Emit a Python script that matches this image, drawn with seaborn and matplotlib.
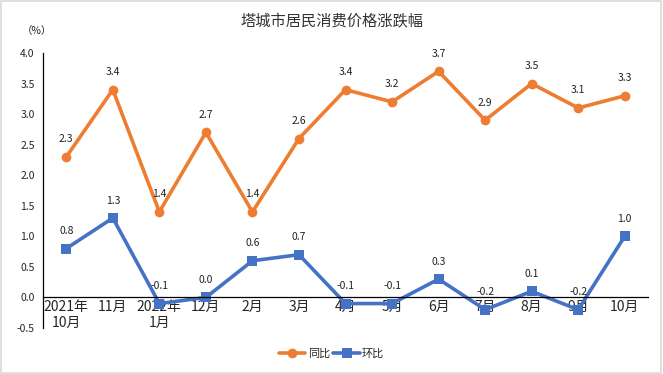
import numpy as np
import pandas as pd
import matplotlib
matplotlib.use('Agg')
import matplotlib.pyplot as plt
import seaborn as sns

# Data
months = ['2021年\n10月', '11月', '2022年\n1月', '12月', '2月', '3月', '4月',
          '5月', '6月', '7月', '8月', '9月', '10月']
yoy = [2.3, 3.4, 1.4, 2.7, 1.4, 2.6, 3.4, 3.2, 3.7, 2.9, 3.5, 3.1, 3.3]
mom = [0.8, 1.3, -0.1, 0.0, 0.6, 0.7, -0.1, -0.1, 0.3, -0.2, 0.1, -0.2, 1.0]
y_ticks = [-0.5, 0.0, 0.5, 1.0, 1.5, 2.0, 2.5, 3.0, 3.5, 4.0]

sns.set_style('white')
plt.rcParams['font.family'] = ['Noto Sans CJK SC', 'DejaVu Sans']
plt.rcParams['axes.unicode_minus'] = False

df = pd.DataFrame({'idx': np.arange(len(months)), '同比': yoy, '环比': mom})
long = df.melt(id_vars='idx', var_name='series', value_name='value')

fig = plt.figure(figsize=(6.63, 3.74), dpi=100)
ax = fig.add_axes([43 / 663, 46 / 374, 605 / 663, 275 / 374])

palette = {'同比': '#ED7D31', '环比': '#4472C4'}
sns.lineplot(data=long, x='idx', y='value', hue='series', style='series',
             markers={'同比': 'o', '环比': 's'}, dashes=False, palette=palette,
             linewidth=2.6, markersize=7, markeredgewidth=0, ax=ax, legend=True)

for i in range(len(months)):
    ax.annotate(f'{yoy[i]:.1f}', (i, yoy[i]), xytext=(0, 9), textcoords='offset points',
                ha='center', va='bottom', fontsize=7.5, color='#222222')
    ax.annotate(f'{mom[i]:.1f}', (i, mom[i]), xytext=(0, 9), textcoords='offset points',
                ha='center', va='bottom', fontsize=7.5, color='#222222')

ax.set_xlim(-0.5, len(months) - 0.5)
ax.set_ylim(-0.5, 4.0)
ax.set_yticks(y_ticks)
ax.set_yticklabels([f'{v:.1f}' for v in y_ticks], fontsize=7.5)
ax.set_xticks(range(len(months)))
ax.set_xticklabels(months, fontsize=7, linespacing=1.35)
ax.set_xticks(np.arange(-0.5, len(months)), minor=True)
ax.tick_params(axis='x', which='major', length=0, pad=2)
ax.tick_params(axis='x', which='minor', direction='in', length=4, width=0.8, color='black')
ax.tick_params(axis='y', direction='out', length=4, width=0.8, color='black', pad=2)
ax.set_xlabel('')
ax.set_ylabel('')

for s in ['top', 'right']:
    ax.spines[s].set_visible(False)
ax.spines['bottom'].set_position(('data', 0))
ax.spines['left'].set_color('black')
ax.spines['bottom'].set_color('black')
ax.spines['left'].set_linewidth(0.9)
ax.spines['bottom'].set_linewidth(0.9)
ax.patch.set_alpha(0)

fig.text(0.50, 0.945, '塔城市居民消费价格涨跌幅', ha='center', va='center', fontsize=11, color='#333333')
fig.text(0.055, 0.918, '（%）', ha='center', va='center', fontsize=7.5, color='#222222')

handles, labels = ax.get_legend_handles_labels()
ax.legend(handles, labels, loc='center', bbox_to_anchor=(0.5, 0.055),
          bbox_transform=fig.transFigure, ncol=2, frameon=False, fontsize=8,
          handlelength=2.4, columnspacing=0.3, handletextpad=0.2)

border = plt.Rectangle((0.002, 0.003), 0.995, 0.993, transform=fig.transFigure,
                       fill=False, edgecolor='#D9D9D9', linewidth=1.2)
fig.patches.append(border)

fig.savefig('out.png', dpi=100)
